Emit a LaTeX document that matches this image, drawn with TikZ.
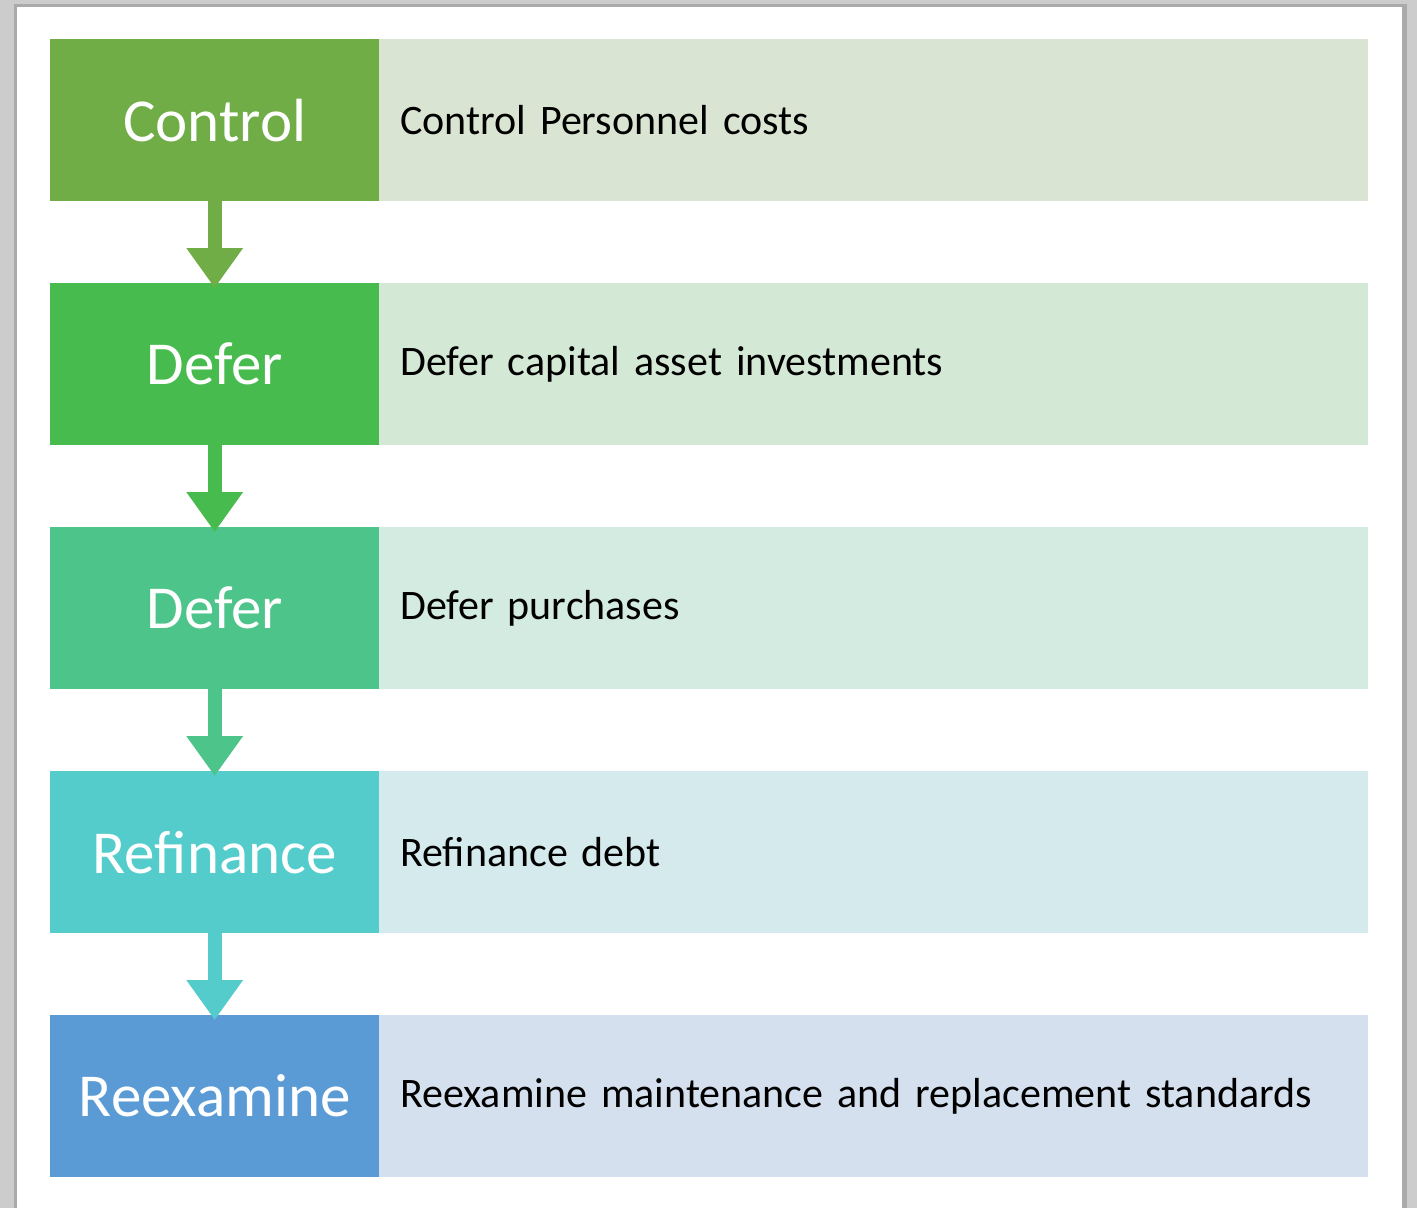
\documentclass[tikz,border=0pt]{standalone}
\usepackage{fontspec}
\setmainfont{Carlito}
\usetikzlibrary{calc,arrows.meta}
\definecolor{bgG}{HTML}{CBCCCB}
\definecolor{shd}{HTML}{A9AAA9}
\definecolor{cA}{HTML}{70AD47}\definecolor{lA}{HTML}{DAE4D2}
\definecolor{cB}{HTML}{48BB4E}\definecolor{lB}{HTML}{D4E8D6}
\definecolor{cC}{HTML}{4CC48A}\definecolor{lC}{HTML}{D4EBE1}
\definecolor{cD}{HTML}{54CCCC}\definecolor{lD}{HTML}{D5EAEC}
\definecolor{cE}{HTML}{5B9BD5}\definecolor{lE}{HTML}{D5E0EE}
\tikzset{
  keybox/.style={minimum width=329pt, minimum height=162pt, inner sep=0pt, text=white, font=\fontsize{61}{63}\selectfont, anchor=north west},
  descbox/.style={minimum width=989pt, minimum height=162pt, inner sep=0pt, text=black, font=\fontsize{42}{45}\selectfont, anchor=north west, text width=947pt, align=left},
  flowarrow/.style={line width=14pt, -{Triangle[width=54pt,length=40pt]}, shorten >=-5pt},
}
\begin{document}
\begin{tikzpicture}[x=1pt,y=-1pt]
\useasboundingbox (0,0) rectangle (1417,1208);
\fill[bgG] (0,0) rectangle (1417,1208);
\fill[shd] (14,4) rectangle (1407,1208);
\fill[white] (17,7) rectangle (1402,1208);
\foreach \i/\c/\k/\d in {0/A/Control/Control Personnel costs, 1/B/Defer/Defer capital asset investments, 2/C/Defer/Defer purchases, 3/D/Refinance/Refinance debt, 4/E/Reexamine/Reexamine maintenance and replacement standards}{
  \node[descbox, fill=l\c] (d\i) at (379,{39+244*\i}) {\d};
  \node[keybox, fill=c\c] (k\i) at (50,{39+244*\i}) {\k};
}
\foreach \i/\j/\c in {0/1/A,1/2/B,2/3/C,3/4/D}{
  \draw[flowarrow, color=c\c] (k\i.south) -- (k\j.north);
}
\end{tikzpicture}
\end{document}
